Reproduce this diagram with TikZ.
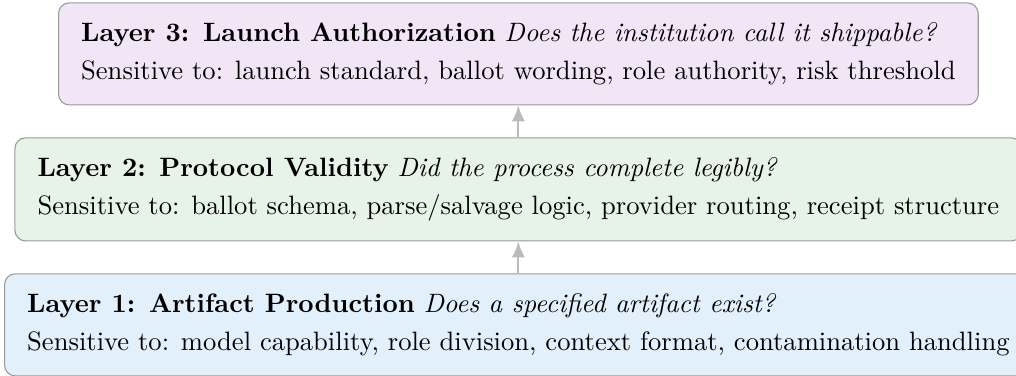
\documentclass[tikz,border=0pt]{standalone}
\usepackage{tikz}
\usetikzlibrary{positioning,arrows.meta}

\definecolor{authfill}{HTML}{F2E5F5}
\definecolor{protofill}{HTML}{E8F3E8}
\definecolor{artfill}{HTML}{E2F0FC}
\definecolor{edgegray}{HTML}{999999}
\definecolor{arrowgray}{HTML}{BBBBBB}

\tikzset{
 layer/.style={draw=edgegray, rounded corners=4pt, align=left,
  inner xsep=8.5pt, inner ysep=7.3pt, font=\normalsize},
 lift/.style={-{Latex[length=6pt,width=5pt]}, color=arrowgray, line width=0.8pt}
}

\begin{document}
\begin{tikzpicture}[node distance=12pt]
 \useasboundingbox (0,0) rectangle (382pt,141.35pt);
 \node[layer, fill=artfill] (l_1) at (194.9pt,19.2pt)
  {\textbf{Layer 1: Artifact Production} \textit{Does a specified artifact exist?}\\[2.5pt]
   Sensitive to: model capability, role division, context format, contamination handling};
 \node[layer, fill=protofill] (l_2) [above=of l_1]
  {\textbf{Layer 2: Protocol Validity} \textit{Did the process complete legibly?}\\[2.5pt]
   Sensitive to: ballot schema, parse/salvage logic, provider routing, receipt structure};
 \node[layer, fill=authfill] (l_3) [above=of l_2]
  {\textbf{Layer 3: Launch Authorization} \textit{Does the institution call it shippable?}\\[2.5pt]
   Sensitive to: launch standard, ballot wording, role authority, risk threshold};
 \draw[lift] (l_1) -- (l_2);
 \draw[lift] (l_2) -- (l_3);
\end{tikzpicture}
\end{document}
